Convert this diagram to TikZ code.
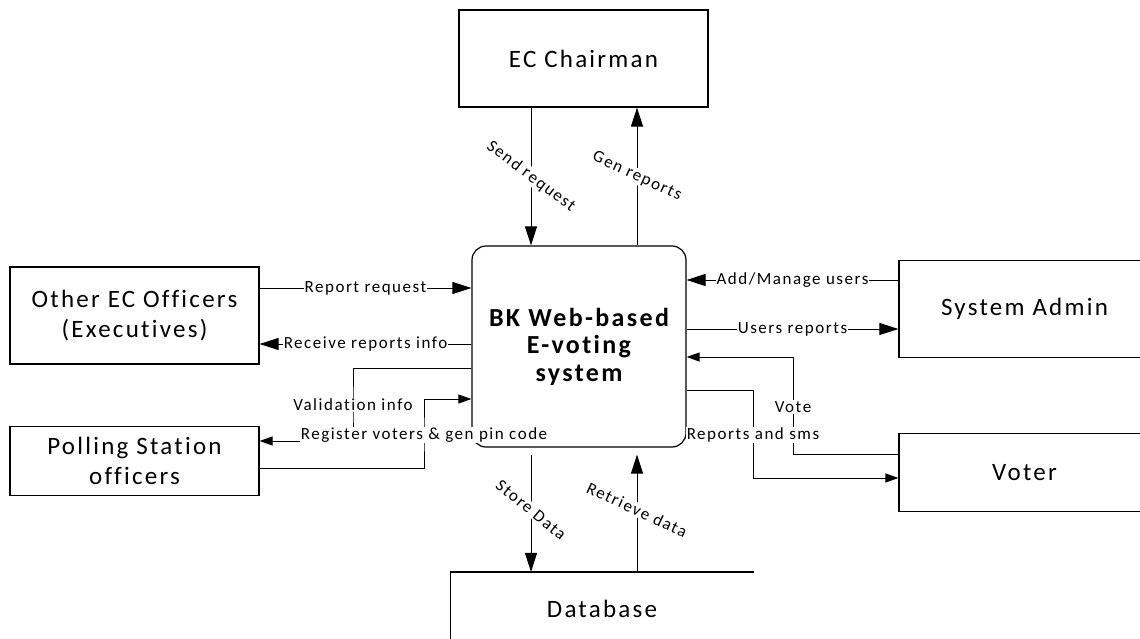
\documentclass[tikz,border=0pt]{standalone}
\usepackage{fontspec}
\setmainfont{Carlito}[LetterSpace=9, Ligatures=NoCommon]
\usetikzlibrary{arrows.meta}

\tikzset{
  caja/.style={draw, line width=1.2pt, inner sep=0pt, minimum width=249pt, align=center,
    font=\fontsize{25}{30}\selectfont},
  flecha/.style={line width=1pt, -{Triangle[length=19pt,width=12pt]}},
  flechita/.style={line width=1pt, -{Triangle[length=13pt,width=9pt]}},
  etiq/.style={fill=white, inner sep=1pt, font=\fontsize{17}{20}\selectfont},
}

\begin{document}
\begin{tikzpicture}[x=1pt,y=-1pt]
    \useasboundingbox (0,0) rectangle (1140,639);
    \clip (0,0) rectangle (1140,639);
    \node[caja, minimum height=97pt] (nodo1) at (583.5,58.5) {EC Chairman};
    \node[caja, minimum height=97pt] (nodo2) at (134.5,315.5) {Other EC Officers\\(Executives)};
    \node[caja, minimum height=69pt] (nodo3) at (134.5,461.3) {Polling Station\\officers};
    \node[caja, minimum width=251pt, minimum height=97pt] (nodo4) at (1024.5,309) {System Admin};
    \node[caja, minimum width=251pt, minimum height=78pt] (nodo5) at (1024.5,472.5) {Voter};
    \node[caja, draw=none, minimum width=302pt, minimum height=73pt] (nodo6) at (602,609) {Database};
    \draw[line width=1.2pt] (nodo6.north east) -- (nodo6.north west) -- (nodo6.south west) -- (nodo6.south east);
    \node[draw, line width=1.2pt, rounded corners=14pt, inner sep=0pt, minimum width=214pt, minimum height=201pt,
      align=center, font=\fontsize{26}{27.5}\selectfont\bfseries] (nodo7) at (579,346.5) {BK Web-based\\E-voting\\system};
    \draw[flecha] (nodo1.south -| 531,0) -- node[etiq, rotate=-37] {Send request} (nodo7.north -| 531,0);
    \draw[flecha] (nodo7.north -| 637,0) -- node[etiq, rotate=-25] {Gen reports} (nodo1.south -| 637,0);
    \draw[flecha] (nodo2.east |- 0,288) -- node[etiq] {Report request} (nodo7.west |- 0,288);
    \draw[flecha] (nodo7.west |- 0,344) -- node[etiq] {Receive reports info} (nodo2.east |- 0,344);
    \draw[flechita] (nodo7.west |- 0,368) -| (353,405) node[etiq] {Validation info} |- (nodo3.east |- 0,441);
    \draw[flechita] (nodo3.east |- 0,468) -| (424,435) node[etiq] {Register voters \& gen pin code} |- (nodo7.west |- 0,399);
    \draw[flecha] (nodo4.west |- 0,280) -- node[etiq] {Add/Manage users} (nodo7.east |- 0,280);
    \draw[flecha] (nodo7.east |- 0,329) -- node[etiq] {Users reports} (nodo4.west |- 0,329);
    \draw[flechita] (nodo5.west |- 0,454) -| (793,407) node[etiq] {Vote} |- (nodo7.east |- 0,357);
    \draw[flechita] (nodo7.east |- 0,390) -| (753,435) node[etiq] {Reports and sms} |- (nodo5.west |- 0,478);
    \draw[flecha, shorten <=7pt] (nodo7.south -| 531,0) -- node[etiq, rotate=-39] {Store Data} (nodo6.north -| 531,0);
    \draw[flecha, shorten >=7pt] (nodo6.north -| 637,0) -- node[etiq, rotate=-25] {Retrieve data} (nodo7.south -| 637,0);
\end{tikzpicture}
\end{document}
